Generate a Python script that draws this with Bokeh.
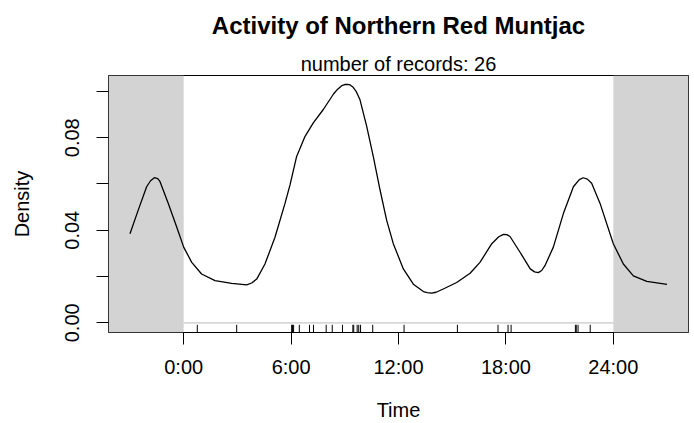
from bokeh.plotting import figure
from bokeh.models import BoxAnnotation, FixedTicker, Title, Range1d, PrintfTickFormatter
from bokeh.embed import file_html
from bokeh.resources import INLINE

# ---- data ----
title_text = "Activity of Northern Red Muntjac"
subtitle_text = "number of records: 26"

# record times (hours) shown as rug marks
record_hours = [0.76, 2.96, 6.03, 6.08, 6.14, 6.46, 7.03, 7.25, 7.96, 8.30, 8.87,
                9.45, 9.50, 9.69, 9.78, 9.88, 10.56, 12.31, 15.29, 17.56, 18.12,
                18.29, 21.88, 21.93, 22.03, 22.71]

# density curve (hour, density)
curve_hours = [-3.0, -2.54, -2.07, -1.85, -1.64, -1.45, -1.32, -0.86, -0.39, 0.0, 0.45,
               1.0, 1.75, 2.68, 3.1, 3.52, 3.8, 4.08, 4.54, 5.10, 5.66, 5.94, 6.31,
               6.78, 7.24, 7.80, 8.36, 8.60, 8.83, 9.0, 9.14, 9.30, 9.47, 9.65, 9.85,
               10.22, 10.59, 10.97, 11.34, 11.71, 12.27, 12.83, 13.39, 13.6, 13.85,
               14.1, 14.50, 15.25, 16.0, 16.55, 17.21, 17.6, 17.86, 18.05, 18.23,
               18.79, 19.36, 19.6, 19.81, 20.0, 20.18, 20.65, 21.21, 21.77, 22.1,
               22.32, 22.55, 22.79, 23.26, 24.0, 24.56, 25.12, 25.87, 27.0]
curve_density = [0.0385, 0.0487, 0.0588, 0.0614, 0.0627, 0.0623, 0.0610, 0.0516, 0.0414,
                 0.0327, 0.0261, 0.0211, 0.0182, 0.0170, 0.0167, 0.0164, 0.0172, 0.0189,
                 0.0254, 0.0370, 0.0516, 0.0596, 0.0719, 0.0806, 0.0864, 0.0922, 0.0988,
                 0.1010, 0.1025, 0.1030, 0.1031, 0.1028, 0.1018, 0.0998, 0.0964, 0.0850,
                 0.0719, 0.0574, 0.0443, 0.0342, 0.0233, 0.0167, 0.0135, 0.0130, 0.0128,
                 0.0132, 0.0146, 0.0174, 0.0214, 0.0261, 0.0342, 0.0372, 0.0382, 0.0381,
                 0.0373, 0.0305, 0.0233, 0.0220, 0.0217, 0.0226, 0.0247, 0.0327, 0.0472,
                 0.0588, 0.0619, 0.0627, 0.0621, 0.0603, 0.0516, 0.0342, 0.0254, 0.0203,
                 0.0179, 0.0166]

hour_ticks = [0, 6, 12, 18, 24]
hour_labels = ["0:00", "6:00", "12:00", "18:00", "24:00"]
density_major = [0.0, 0.04, 0.08]
density_minor = [0.02, 0.06, 0.10]
day_start, day_end = 0, 24

x_min, x_max = -4.2, 28.2
y_min, y_max = -0.0042, 0.1069

FONT = "Liberation Sans"
SHADE = "#d3d3d3"

p = figure(width=690, height=423, x_range=Range1d(x_min, x_max), y_range=Range1d(y_min, y_max),
           output_backend="svg", toolbar_location=None, title=None,
           min_border_left=108, min_border_right=2, min_border_top=75, min_border_bottom=80)

p.background_fill_color = "white"
p.border_fill_color = "white"
p.outline_line_color = "black"
p.outline_line_width = 1
p.outline_line_alpha = 1
p.grid.visible = False

# night shading
p.add_layout(BoxAnnotation(right=day_start, fill_color=SHADE, fill_alpha=1, line_alpha=0, level="underlay"))
p.add_layout(BoxAnnotation(left=day_end, fill_color=SHADE, fill_alpha=1, line_alpha=0, level="underlay"))

# baseline across the day
p.segment(x0=[day_start], y0=[0], x1=[day_end], y1=[0], line_color="#c8c8c8", line_width=1.2)

# rug
rug_top = y_min + 0.03 * (y_max - y_min)
p.segment(x0=record_hours, y0=[y_min] * len(record_hours), x1=record_hours,
          y1=[rug_top] * len(record_hours), line_color="black", line_width=1)

# density curve
p.line(curve_hours, curve_density, line_color="black", line_width=1.3)

# titles
p.add_layout(Title(text=subtitle_text, align="center", text_font=FONT, text_font_size="20px",
                   text_font_style="normal", text_color="black", standoff=1), "above")
p.add_layout(Title(text=title_text, align="center", text_font=FONT, text_font_size="24px",
                   text_font_style="bold", text_color="black", standoff=20,
                   vertical_align="top"), "above")

# x axis
xa = p.xaxis[0]
xa.ticker = FixedTicker(ticks=hour_ticks)
xa.major_label_overrides = dict(zip(hour_ticks, hour_labels))
xa.axis_label = "Time"
xa.axis_line_color = None
xa.major_tick_out = 12
xa.major_tick_in = 0
xa.major_tick_line_color = "black"
xa.minor_tick_line_color = None
xa.major_label_text_font = FONT
xa.major_label_text_font_size = "20px"
xa.major_label_text_color = "black"
xa.major_label_standoff = 11
xa.axis_label_text_font = FONT
xa.axis_label_text_font_size = "20px"
xa.axis_label_text_font_style = "normal"
xa.axis_label_text_color = "black"
xa.axis_label_standoff = 18

# y axis
ya = p.yaxis[0]
ya.ticker = FixedTicker(ticks=density_major, minor_ticks=density_minor)
ya.formatter = PrintfTickFormatter(format="%.2f")
ya.axis_label = "Density"
ya.axis_line_color = None
ya.major_tick_out = 12
ya.major_tick_in = 0
ya.minor_tick_out = 12
ya.minor_tick_in = 0
ya.major_tick_line_color = "black"
ya.minor_tick_line_color = "black"
ya.major_label_orientation = "vertical"
ya.major_label_text_font = FONT
ya.major_label_text_font_size = "20px"
ya.major_label_text_color = "black"
ya.major_label_standoff = 17
ya.axis_label_text_font = FONT
ya.axis_label_text_font_size = "20px"
ya.axis_label_text_font_style = "normal"
ya.axis_label_text_color = "black"
ya.axis_label_standoff = 30

open("out.html", "w").write(file_html(p, INLINE))
